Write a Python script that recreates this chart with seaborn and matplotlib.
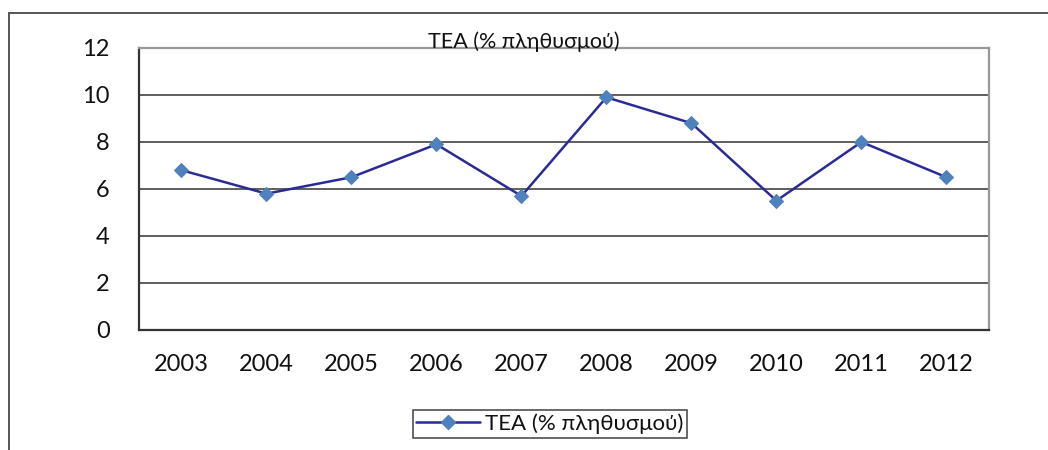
import numpy as np
import pandas as pd
import matplotlib
matplotlib.use("Agg")
import matplotlib.pyplot as plt
import seaborn as sns
from matplotlib.patches import Rectangle
from matplotlib.lines import Line2D

# data
years = ["2003", "2004", "2005", "2006", "2007", "2008", "2009", "2010", "2011", "2012"]
tea = [6.8, 5.8, 6.5, 7.9, 5.7, 9.9, 8.8, 5.5, 8.0, 6.5]
series_name = "TEA (% πληθυσμού)"
legend_name = "TEA (% πληθυσμού)"

sns.set_style("white")
plt.rcParams["font.family"] = ["Lato", "DejaVu Sans"]
plt.rcParams["text.color"] = "#111111"
plt.rcParams["xtick.color"] = "#111111"
plt.rcParams["ytick.color"] = "#111111"

df = pd.DataFrame({"pos": np.arange(len(years)), "year": years, "tea": tea})

fig = plt.figure(figsize=(10.48, 4.5), dpi=100)
ax = fig.add_axes([0.1326, 0.2667, 0.811, 0.6267])

# outer frame of the embedded chart (only left and top visible)
fig.patches.append(Rectangle((0.0086, -0.1), 1.2, 1.071, transform=fig.transFigure,
                             fill=False, edgecolor="#555555", linewidth=1.4, zorder=0))

for y in [2, 4, 6, 8, 10]:
    ax.axhline(y, color="#333333", linewidth=1.1, zorder=1)

line_color = "#2B2B96"
marker_color = "#4F81BD"
sns.lineplot(data=df, x="pos", y="tea", ax=ax, color=line_color, linewidth=1.8,
             marker="D", markersize=7, markerfacecolor=marker_color,
             markeredgecolor=marker_color, legend=False, zorder=3)

ax.set_xlim(-0.5, len(years) - 0.5)
ax.set_ylim(0, 12)
ax.set_yticks(range(0, 13, 2))
ax.set_yticklabels([str(v) for v in range(0, 13, 2)], fontsize=17)
ax.set_xticks(np.arange(-0.5, len(years), 1.0))
ax.set_xticklabels([])
ax.set_xticks(np.arange(len(years)), minor=True)
ax.set_xticklabels(years, minor=True, fontsize=17)
ax.tick_params(axis="x", which="major", direction="out", length=7, width=1.2, color="#333333")
ax.tick_params(axis="x", which="minor", length=0, pad=17)
ax.tick_params(axis="y", direction="out", length=7, width=1.2, color="#333333", pad=14)
ax.set_xlabel("")
ax.set_ylabel("")

ax.spines["left"].set_color("#333333")
ax.spines["left"].set_linewidth(1.6)
ax.spines["bottom"].set_color("#333333")
ax.spines["bottom"].set_linewidth(1.6)
ax.spines["top"].set_color("#999999")
ax.spines["top"].set_linewidth(1.6)
ax.spines["right"].set_color("#999999")
ax.spines["right"].set_linewidth(1.6)

fig.text(0.4995, 0.907, series_name, ha="center", va="center", fontsize=15.5)

handle = Line2D([], [], color=line_color, linewidth=1.8, marker="D", markersize=7,
                markerfacecolor=marker_color, markeredgecolor=marker_color)
leg = fig.legend([handle], [legend_name], loc="center", bbox_to_anchor=(0.5245, 0.058),
                 fontsize=16, frameon=True, fancybox=False, handlelength=2.9,
                 borderpad=0.15, handletextpad=0.2, borderaxespad=0)
leg.get_frame().set_edgecolor("#222222")
leg.get_frame().set_linewidth(1.2)

fig.savefig("out.png", dpi=100)
